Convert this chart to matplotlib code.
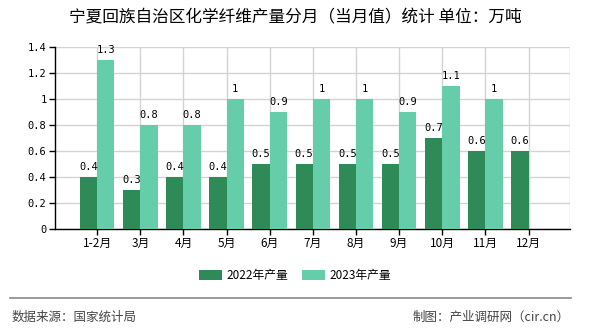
import matplotlib.pyplot as plt
import numpy as np

plt.rcParams['font.family'] = ['Noto Sans CJK SC', 'DejaVu Sans']

months = ['1-2月', '3月', '4月', '5月', '6月', '7月', '8月', '9月', '10月', '11月', '12月']
prod_2022 = [0.4, 0.3, 0.4, 0.4, 0.5, 0.5, 0.5, 0.5, 0.7, 0.6, 0.6]
prod_2023 = [1.3, 0.8, 0.8, 1, 0.9, 1, 1, 0.9, 1.1, 1, None]

c_2022 = '#2e8b57'
c_2023 = '#66cdaa'

fig = plt.figure(figsize=(5.9, 3.3), dpi=100)
ax = fig.add_axes([0.093, 0.306, 0.873, 0.552])

x = np.arange(len(months))
w = 0.4
ax.bar(x - w / 2, prod_2022, w, color=c_2022, label='2022年产量', zorder=3)
x23 = [i for i, v in zip(x, prod_2023) if v is not None]
v23 = [v for v in prod_2023 if v is not None]
ax.bar(np.array(x23) + w / 2, v23, w, color=c_2023, label='2023年产量', zorder=3)

def fmt(v):
    return f'{v:g}'

for i, v in zip(x, prod_2022):
    ax.text(i - w / 2, v + 0.04, fmt(v), ha='center', va='bottom',
            fontsize=7.5, family='DejaVu Sans Mono', zorder=4)
for i, v in zip(x23, v23):
    ax.text(i + w / 2, v + 0.04, fmt(v), ha='center', va='bottom',
            fontsize=7.5, family='DejaVu Sans Mono', zorder=4)

ax.set_xlim(-0.98, len(months) - 0.04)
ax.set_ylim(0, 1.4)
ax.set_yticks(np.arange(0, 1.41, 0.2))
ax.set_yticklabels([fmt(round(t, 1)) for t in np.arange(0, 1.41, 0.2)],
                   family='DejaVu Sans Mono', fontsize=7.5)
ax.set_xticks(x)
ax.set_xticklabels(months, fontsize=8.5)
ax.tick_params(axis='both', length=4, width=1, color='black', pad=2)

ax.grid(True, color='#d3d3d3', linewidth=1, zorder=0)
ax.axvline(len(months) - 0.04, color='#d3d3d3', linewidth=1, zorder=0)
for s in ['top', 'right']:
    ax.spines[s].set_visible(False)
ax.spines['left'].set_linewidth(1)
ax.spines['bottom'].set_linewidth(1)

fig.text(0.5, 0.945, '宁夏回族自治区化学纤维产量分月（当月值）统计 单位：万吨',
         ha='center', va='center', fontsize=12)

fig.legend(loc='center', bbox_to_anchor=(0.5, 0.165), ncol=2, frameon=False,
           fontsize=8.5, handlelength=1.9, handleheight=0.9, columnspacing=1.2,
           handletextpad=0.4)

fig.add_artist(plt.Line2D([0.017, 0.968], [0.097, 0.097], color='#888888',
                          linewidth=1.2, transform=fig.transFigure))
fig.text(0.02, 0.04, '数据来源：国家统计局', ha='left', va='center',
         fontsize=9, color='#444444')
fig.text(0.966, 0.04, '制图：产业调研网（cir.cn）', ha='right', va='center',
         fontsize=9, color='#444444')

fig.savefig('out.png', dpi=100)
